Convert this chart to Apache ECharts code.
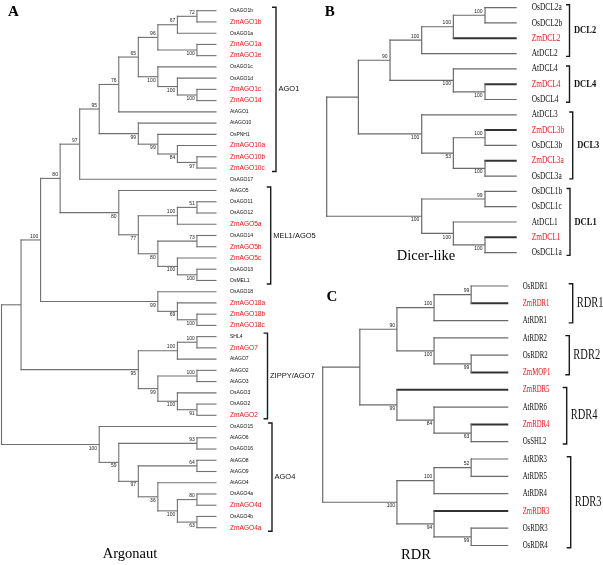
<!DOCTYPE html>
<html><head><meta charset="utf-8">
<script src="https://cdn.jsdelivr.net/npm/echarts@6/dist/echarts.min.js"></script>
<style>html,body{margin:0;padding:0;background:#fff}#c{width:603px;height:565px}</style>
</head><body><div id="c"></div>
<script>
// ---------------- DATA ----------------
// Panel A: Argonaut (Newick topology with bootstrap support)
const ago1Clade = "((((((OsAGO1b,ZmAGO1b)72,OsAGO1a)67,(ZmAGO1a,ZmAGO1e)100)96,(OsAGO1c,(OsAGO1d,(ZmAGO1c,ZmAGO1d)100)100)100)65,AtAGO1)76,(AtAGO10,(OsPNH1,(ZmAGO10a,(ZmAGO10b,ZmAGO10c)97)84)99)99)95";
const mel1Clade = "(AtAGO5,(((OsAGO11,OsAGO12)51,ZmAGO5a)100,((OsAGO14,ZmAGO5b)73,(ZmAGO5c,(OsAGO13,OsMEL1)100)100)80)77)80";
const ago18Clade = "(OsAGO18,(ZmAGO18a,(ZmAGO18b,ZmAGO18c)100)69)99";
const zippyClade = "(((SHL4,ZmAGO7)100,AtAGO7)100,((AtAGO2,AtAGO3)100,(OsAGO3,(OsAGO2,ZmAGO2)91)100)99)95";
const ago4Clade = "(OsAGO15,((AtAGO6,OsAGO16)93,((AtAGO8,AtAGO9)64,(AtAGO4,((OsAGO4a,ZmAGO4d)80,(OsAGO4b,ZmAGO4a)63)100)36)97)59)100";
const argonautNewick = "(((((" + ago1Clade + ",OsAGO17)97," + mel1Clade + ")80," + ago18Clade + ")100," + zippyClade + ")," + ago4Clade + ");";
const argonautClades = [["AGO1","OsAGO1b","ZmAGO10c"],["MEL1/AGO5","AtAGO5","OsMEL1"],["ZIPPY/AGO7","SHL4","ZmAGO2"],["AGO4","OsAGO15","ZmAGO4a"]];

// Panel B: Dicer-like
const dicerNewick = "((((((OsDCL2a,OsDCL2b)100,ZmDCL2)100,AtDCL2)100,(AtDCL4,(ZmDCL4,OsDCL4)100)100)90,(AtDCL3,((ZmDCL3b,OsDCL3b)100,(ZmDCL3a,OsDCL3a)100)53)100),((OsDCL1b,OsDCL1c)99,(AtDCL1,(ZmDCL1,OsDCL1a)100)100)100);";
const dicerClades = [["DCL2","OsDCL2a","AtDCL2"],["DCL4","AtDCL4","OsDCL4"],["DCL3","AtDCL3","OsDCL3a"],["DCL1","OsDCL1b","OsDCL1a"]];

// Panel C: RDR
const rdrNewick = "(((((OsRDR1,ZmRDR1)99,AtRDR1)100,(AtRDR2,(OsRDR2,ZmMOP1)99)100)90,(ZmRDR5,(AtRDR6,(ZmRDR4,OsSHL2)63)84)99),(((AtRDR3,AtRDR5)52,AtRDR4)100,(ZmRDR3,(OsRDR3,OsRDR4)99)94)100);";
const rdrClades = [["RDR1","OsRDR1","AtRDR1"],["RDR2","AtRDR2","ZmMOP1"],["RDR4","ZmRDR5","OsSHL2"],["RDR3","AtRDR3","OsRDR4"]];

const panelLetters = ["A","B","C"];
const panelTitles = ["Argonaut","Dicer-like","RDR"];

// ---------------- TREE HELPERS ----------------
function parseNewick(s) {
  let i = 0;
  function node() {
    const n = {children: [], name: '', support: ''};
    if (s[i] === '(') {
      i++;
      n.children.push(node());
      while (s[i] === ',') { i++; n.children.push(node()); }
      i++;
    }
    let t = '';
    while (i < s.length && !',();'.includes(s[i])) t += s[i++];
    if (n.children.length) n.support = t.trim(); else n.name = t.trim();
    return n;
  }
  return node();
}
function layoutTree(root) {
  const leaves = [], nodes = [];
  (function h(n){ if (!n.children.length) n.h = 0; else { n.children.forEach(h); n.h = 1 + Math.max(...n.children.map(c => c.h)); } })(root);
  const maxL = root.h;
  (function walk(n, parent, k){
    n.level = maxL - n.h;
    n.parentLevel = parent ? parent.level : n.level;
    n.childIdx = k;
    if (!n.children.length) { n.y = leaves.length; leaves.push(n.name); n.top = n.bottom = n.y; }
    else {
      n.children.forEach((c, j) => walk(c, n, j));
      n.top = n.children[0].y; n.bottom = n.children[n.children.length - 1].y;
      n.y = (n.top + n.bottom) / 2;
    }
    nodes.push(n);
  })(root, null, 0);
  return {nodes, leaves, maxL};
}

// ---------------- LAYOUT / STYLE ----------------
const panels = [
  { newick: argonautNewick, clades: argonautClades,
    grid: {left: 1.5, top: 10.7, width: 215, height: 517},
    st: { stroke: '#707070', width: 1.1, zmStroke: '#707070', zmWidth: 1.1,
      bsFont: '5px "Liberation Sans"', bsGap: 2.2, bsOff: 1.2,
      labelGap: 13.5, labelScale: 1, leafFont: '5px "Liberation Sans"', zmFont: '6.6px "Liberation Sans"',
      bracketX: [276, 270.7, 267.5, 272], bracketPad: 3.5, tick: 4, cladeGap: 2.5, cladeFont: '7.5px "Liberation Sans"', cladeScale: 1 },
    letter: {x: 13.5, y: 12.5}, title: {x: 130, y: 554} },
  { newick: dicerNewick, clades: dicerClades,
    grid: {left: 326.7, top: 7.6, width: 190, height: 245},
    st: { stroke: '#6a6a6a', width: 1.2, zmStroke: '#333', zmWidth: 2,
      bsFont: '5px "Liberation Sans"', bsGap: 2.4, bsOff: 1.2,
      labelGap: 15, labelScale: 0.74, leafFont: '10px "Liberation Serif"', zmFont: '10px "Liberation Serif"',
      bracketX: [569.5, 569.5, 572.7, 570], bracketPad: 2.8, tick: 3.5, cladeGap: 4.5, cladeFont: 'bold 11px "Liberation Serif"', cladeScale: 0.77 },
    letter: {x: 329.7, y: 12}, title: {x: 426, y: 256.5} },
  { newick: rdrNewick, clades: rdrClades,
    grid: {left: 322.7, top: 286, width: 185.6, height: 259.5},
    st: { stroke: '#6a6a6a', width: 1.2, zmStroke: '#333', zmWidth: 2,
      bsFont: '5px "Liberation Sans"', bsGap: 1.8, bsOff: 1.2,
      labelGap: 14.4, labelScale: 0.68, leafFont: '10px "Liberation Serif"', zmFont: '10px "Liberation Serif"',
      bracketX: [572.7, 569.3, 566.7, 570.7], bracketPad: 2.3, tick: 4, cladeGap: 4, cladeFont: '14px "Liberation Serif"', cladeScale: 0.75 },
    letter: {x: 332, y: 297.3}, title: {x: 416, y: 555} }
];

function makeTreeRender(lay, st) {
  return function (params, api) {
    const n = lay.nodes[params.dataIndex];
    const p = api.coord([api.value(0), api.value(1)]);
    const pp = api.coord([api.value(2), api.value(1)]);
    const els = [];
    const isZm = n.name.indexOf('Zm') === 0;
    if (pp[0] < p[0]) {
      els.push({type: 'line', shape: {x1: pp[0] - st.width / 2, y1: p[1], x2: p[0], y2: p[1]},
        style: {stroke: isZm ? st.zmStroke : st.stroke, lineWidth: isZm ? st.zmWidth : st.width}});
    }
    if (n.children.length) {
      const a = api.coord([api.value(0), api.value(3)]), b = api.coord([api.value(0), api.value(4)]);
      els.push({type: 'line', shape: {x1: p[0], y1: a[1] - st.width / 2, x2: p[0], y2: b[1] + st.width / 2},
        style: {stroke: st.stroke, lineWidth: st.width}});
      if (n.support) {
        const above = n.childIdx === 0;
        els.push({type: 'text', x: p[0] - st.bsGap, y: above ? p[1] - st.bsOff : p[1] + st.bsOff,
          style: {text: n.support, align: 'right', verticalAlign: above ? 'bottom' : 'top', font: st.bsFont, fill: '#222'}});
      }
    } else {
      els.push({type: 'text', x: p[0] + st.labelGap, y: p[1], scaleX: st.labelScale,
        style: {text: n.name, align: 'left', verticalAlign: 'middle', font: isZm ? st.zmFont : st.leafFont,
          fill: isZm ? '#ee1414' : '#111'}});
    }
    return {type: 'group', children: els};
  };
}
function makeCladeRender(clades, st) {
  return function (params, api) {
    const i = params.dataIndex;
    const x = st.bracketX[i];
    const y1 = api.coord([0, api.value(0)])[1] - st.bracketPad;
    const y2 = api.coord([0, api.value(1)])[1] + st.bracketPad;
    return {type: 'group', children: [
      {type: 'polyline', shape: {points: [[x - st.tick, y1], [x, y1], [x, y2], [x - st.tick, y2]]},
        style: {stroke: '#1a1a1a', lineWidth: 1.4, fill: null}},
      {type: 'text', x: x + st.cladeGap, y: (y1 + y2) / 2, scaleX: st.cladeScale,
        style: {text: clades[i][0], align: 'left', verticalAlign: 'middle', font: st.cladeFont, fill: '#111'}}
    ]};
  };
}

const grid = [], xAxis = [], yAxis = [], series = [], graphic = [];
panels.forEach((pn, k) => {
  const lay = layoutTree(parseNewick(pn.newick));
  grid.push(Object.assign({containLabel: false}, pn.grid));
  xAxis.push({gridIndex: k, type: 'value', min: 0, max: lay.maxL, show: false});
  yAxis.push({gridIndex: k, type: 'value', min: 0, max: lay.leaves.length - 1, inverse: true, show: false});
  series.push({type: 'custom', coordinateSystem: 'cartesian2d', xAxisIndex: k, yAxisIndex: k, silent: true,
    encode: {x: 0, y: 1},
    data: lay.nodes.map(n => [n.level, n.y, n.parentLevel, n.top, n.bottom]),
    renderItem: makeTreeRender(lay, pn.st)});
  series.push({type: 'custom', coordinateSystem: 'cartesian2d', xAxisIndex: k, yAxisIndex: k, silent: true,
    encode: {y: [0, 1]},
    data: pn.clades.map(c => [lay.leaves.indexOf(c[1]), lay.leaves.indexOf(c[2])]),
    renderItem: makeCladeRender(pn.clades, pn.st)});
  graphic.push({type: 'text', x: pn.letter.x, y: pn.letter.y,
    style: {text: panelLetters[k], align: 'center', verticalAlign: 'middle', font: 'bold 15px "Liberation Serif"', fill: '#000'}});
  graphic.push({type: 'text', x: pn.title.x, y: pn.title.y,
    style: {text: panelTitles[k], align: 'center', verticalAlign: 'middle', font: '14.5px "Liberation Serif"', fill: '#000'}});
});

const chart = echarts.init(document.getElementById('c'), null, {renderer: 'canvas'});
chart.setOption({animation: false, backgroundColor: '#fff', grid, xAxis, yAxis, series, graphic});
</script>
</body></html>
